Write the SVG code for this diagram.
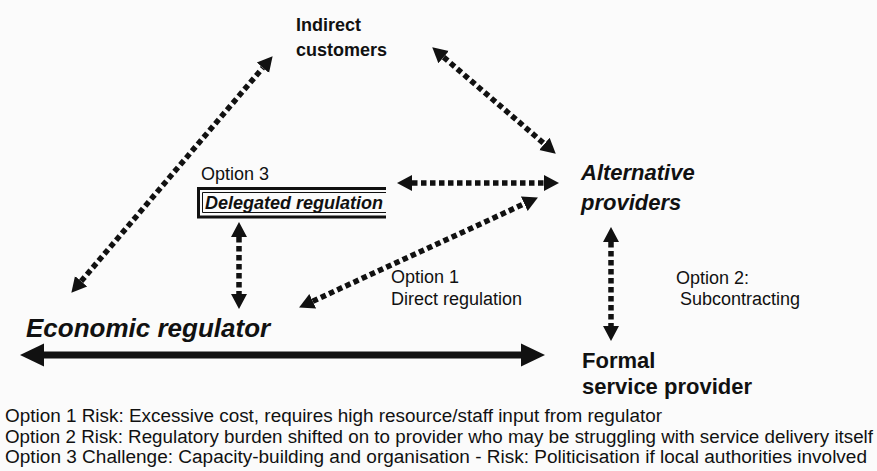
<svg xmlns="http://www.w3.org/2000/svg" width="877" height="471" viewBox="0 0 877 471">
  <style>
    text { font-family: "Liberation Sans", Arial, sans-serif; fill: #111; }
    .node { font-weight: bold; }
    .ital { font-weight: bold; font-style: italic; }
    .lbl { font-size: 18px; }
    .note { font-size: 18px; }
    .dot { fill: none; stroke: #111; stroke-width: 5.5; stroke-dasharray: 5.5 3.5; marker-start: url(#head); marker-end: url(#head); }
    .solid { fill: none; stroke: #111; stroke-width: 7; marker-start: url(#bighead); marker-end: url(#bighead); }
  </style>
  <defs>
    <marker id="head" markerUnits="userSpaceOnUse" markerWidth="18" markerHeight="18" viewBox="0 -9 18 18" refX="0" refY="0" orient="auto-start-reverse">
      <path d="M0,-8 L15,0 L0,8 z" fill="#111"/>
    </marker>
    <marker id="bighead" markerUnits="userSpaceOnUse" markerWidth="26" markerHeight="26" viewBox="0 -13 26 26" refX="0" refY="0" orient="auto-start-reverse">
      <path d="M0,-11.5 L24,0 L0,11.5 z" fill="#111"/>
    </marker>
  </defs>

  <rect width="877" height="471" fill="#fbfbfb"/>

  <!-- connectors -->
  <g id="connectors">
    <line class="dot" x1="81.1" y1="281.3" x2="262.9" y2="67.7"/>
    <line class="dot" x1="443.6" y1="57.1" x2="544.4" y2="143.9"/>
    <line class="dot" x1="412" y1="183" x2="544" y2="183"/>
    <line class="dot" x1="239" y1="237" x2="239" y2="294"/>
    <line class="dot" x1="312.7" y1="301.2" x2="524.3" y2="203.8"/>
    <line class="dot" x1="611" y1="242" x2="611" y2="326"/>
    <line class="solid" x1="44" y1="355" x2="521" y2="355"/>
  </g>

  <g id="indirect-customers">
    <text class="node" x="296" y="31" font-size="18">Indirect</text>
    <text class="node" x="296" y="56" font-size="18">customers</text>
  </g>

  <g id="alternative-providers">
    <text class="ital" x="581" y="180" font-size="22">Alternative</text>
    <text class="ital" x="581" y="210" font-size="22">providers</text>
  </g>

  <g id="delegated-regulation">
    <text class="lbl" x="201" y="180">Option 3</text>
    <path d="M386,188.5 H198.5 V217 H386" fill="none" stroke="#111" stroke-width="3"/>
    <path d="M386,192.5 H202.5 V212.5 H386" fill="none" stroke="#111" stroke-width="1"/>
    <text class="ital" x="205" y="209" font-size="18">Delegated regulation</text>
  </g>

  <g id="economic-regulator">
    <text class="ital" x="26" y="337" font-size="26">Economic regulator</text>
  </g>

  <g id="formal-provider">
    <text class="node" x="582" y="368" font-size="22">Formal</text>
    <text class="node" x="582" y="394" font-size="22">service provider</text>
  </g>

  <g id="option-labels">
    <text class="lbl" x="391" y="283">Option 1</text>
    <text class="lbl" x="391" y="305">Direct regulation</text>
    <text class="lbl" x="676" y="284">Option 2:</text>
    <text class="lbl" x="680" y="305">Subcontracting</text>
  </g>

  <g id="notes">
    <text class="note" x="5" y="422" textLength="657" lengthAdjust="spacingAndGlyphs">Option 1 Risk: Excessive cost, requires high resource/staff input from regulator</text>
    <text class="note" x="5" y="443" textLength="868" lengthAdjust="spacingAndGlyphs">Option 2 Risk: Regulatory burden shifted on to provider who may be struggling with service delivery itself</text>
    <text class="note" x="5" y="463" textLength="862" lengthAdjust="spacingAndGlyphs">Option 3 Challenge: Capacity-building and organisation - Risk: Politicisation if local authorities involved</text>
  </g>
</svg>
